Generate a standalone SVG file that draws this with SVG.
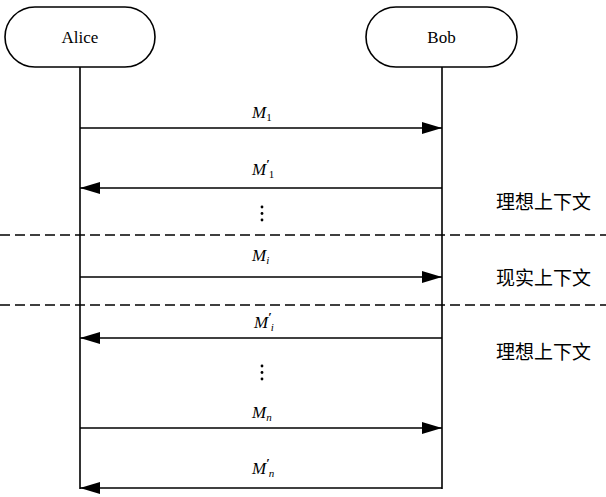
<svg xmlns="http://www.w3.org/2000/svg" width="606" height="497" viewBox="0 0 606 497">
  <defs>
    <marker id="arrow" viewBox="0 0 20 12" refX="20" refY="6" markerWidth="20" markerHeight="12" markerUnits="userSpaceOnUse" orient="auto">
      <path d="M0,0 L20,6 L0,12 Z" fill="#000"/>
    </marker>
  </defs>
  <style>
    .actor { fill: #fff; stroke: #000; stroke-width: 1.6; }
    .name { font-family: "Liberation Serif", "Times New Roman", serif; font-size: 17px; text-anchor: middle; fill: #000; }
    .life { stroke: #000; stroke-width: 1.6; fill: none; }
    .msg { stroke: #000; stroke-width: 1.6; fill: none; marker-end: url(#arrow); }
    .sep { stroke: #000; stroke-width: 1.6; stroke-dasharray: 10 5; fill: none; }
    .lbl { font-family: "Liberation Serif", "Times New Roman", serif; font-style: italic; font-size: 17px; fill: #000; }
    .sub { font-size: 11px; }
    .up { font-style: normal; }
    .pr { font-size: 13px; font-style: normal; font-weight: bold; }
    .ctx { font-family: "Liberation Serif", "Noto Sans CJK SC", serif; font-size: 19px; fill: #000; }
    .dot { fill: #000; }
  </style>

  <g id="alice">
    <rect class="actor" x="5" y="7" width="150" height="60" rx="30" ry="30"/>
    <text class="name" x="80" y="43">Alice</text>
  </g>
  <g id="bob">
    <rect class="actor" x="366" y="7" width="151" height="60" rx="30" ry="30"/>
    <text class="name" x="441.5" y="43">Bob</text>
  </g>

  <g id="connectors">
    <!-- lifelines -->
    <line class="life" x1="80" y1="67" x2="80" y2="489"/>
    <line class="life" x1="442" y1="67" x2="442" y2="489"/>
    <!-- context separators -->
    <line class="sep" x1="0" y1="235" x2="606" y2="235"/>
    <line class="sep" x1="0" y1="305" x2="606" y2="305"/>
    <!-- messages -->
    <line class="msg" x1="80" y1="128" x2="442" y2="128"/>
    <line class="msg" x1="442" y1="188" x2="80" y2="188"/>
    <line class="msg" x1="80" y1="277" x2="442" y2="277"/>
    <line class="msg" x1="442" y1="338" x2="80" y2="338"/>
    <line class="msg" x1="80" y1="428" x2="442" y2="428"/>
    <line class="msg" x1="442" y1="488" x2="80" y2="488"/>
  </g>

  <g id="labels">
    <text class="lbl" x="252" y="118">M<tspan class="sub up" dy="3">1</tspan></text>
    <text class="lbl" x="252" y="175">M<tspan class="pr" dy="-7">′</tspan><tspan class="sub up" dx="-1" dy="10">1</tspan></text>
    <text class="lbl" x="252" y="261">M<tspan class="sub" dy="3">i</tspan></text>
    <text class="lbl" x="254" y="328">M<tspan class="pr" dy="-7">′</tspan><tspan class="sub" dx="-1" dy="10">i</tspan></text>
    <text class="lbl" x="252" y="418">M<tspan class="sub" dy="3">n</tspan></text>
    <text class="lbl" x="252" y="474">M<tspan class="pr" dy="-7">′</tspan><tspan class="sub" dx="-1" dy="10">n</tspan></text>
    <!-- ellipses -->
    <circle class="dot" cx="262" cy="207" r="1.4"/>
    <circle class="dot" cx="262" cy="213.5" r="1.4"/>
    <circle class="dot" cx="262" cy="220" r="1.4"/>
    <circle class="dot" cx="262" cy="366" r="1.4"/>
    <circle class="dot" cx="262" cy="372.5" r="1.4"/>
    <circle class="dot" cx="262" cy="379" r="1.4"/>
  </g>

  <g id="contexts">
    <text class="ctx" x="496" y="209">理想上下文</text>
    <text class="ctx" x="496" y="285">现实上下文</text>
    <text class="ctx" x="496" y="359">理想上下文</text>
  </g>
</svg>
